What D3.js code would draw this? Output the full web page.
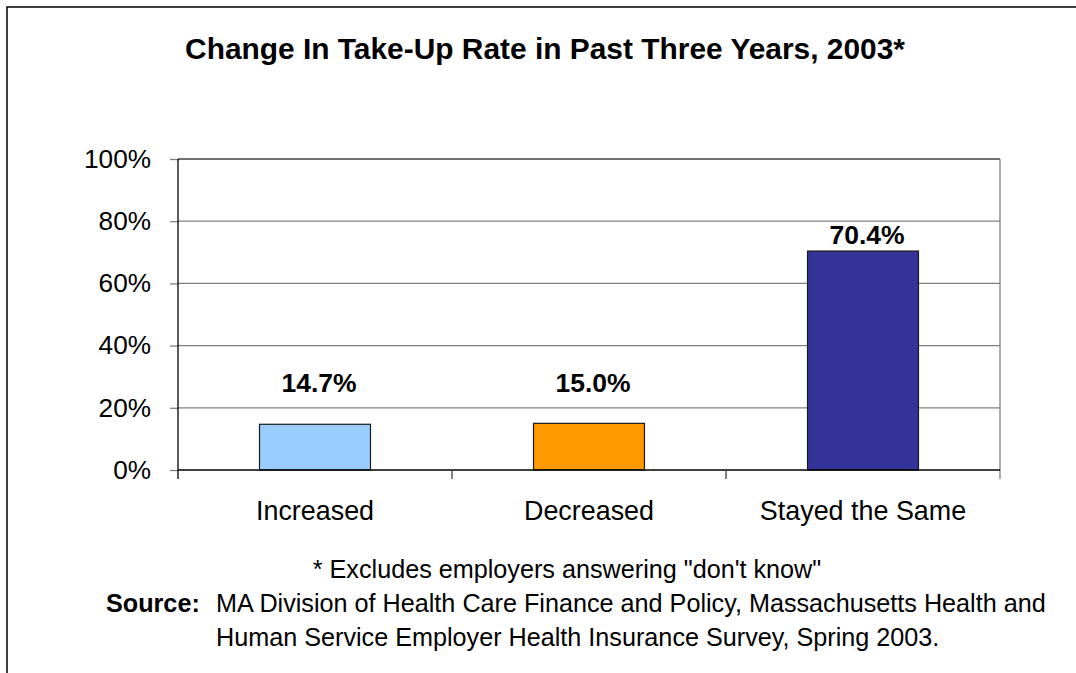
<!DOCTYPE html>
<html>
<head>
<meta charset="utf-8">
<script src="https://cdn.jsdelivr.net/npm/d3@7"></script>
<style>
  html, body { margin: 0; padding: 0; background: #fff; }
  svg { display: block; font-family: "Liberation Sans", Arial, sans-serif; }
</style>
</head>
<body>
<svg id="chart" width="1076" height="673"></svg>
<script>
// ---- data ----
const categories = ["Increased", "Decreased", "Stayed the Same"];
const values = [0.147, 0.150, 0.704];
const valueLabels = ["14.7%", "15.0%", "70.4%"];
const barColors = ["#99CCFF", "#FF9900", "#333399"];
const yTicks = [0, 0.2, 0.4, 0.6, 0.8, 1.0];
const titleText = "Change In Take-Up Rate in Past Three Years, 2003*";
const footnoteText = "* Excludes employers answering \"don't know\"";
const sourceLabel = "Source:";
const sourceLines = [
  "MA Division of Health Care Finance and Policy, Massachusetts Health and",
  "Human Service Employer Health Insurance Survey, Spring 2003."
];

// ---- layout ----
const svg = d3.select("#chart");
const plot = { left: 178, right: 1000, top: 159, bottom: 470 };

// outer frame (only top and left edges visible)
svg.append("rect")
  .attr("x", 7).attr("y", 7)
  .attr("width", 1100).attr("height", 700)
  .attr("fill", "none").attr("stroke", "#000").attr("stroke-width", 1.5);

const x = d3.scaleBand().domain(categories).range([plot.left, plot.right]).padding(0);
const y = d3.scaleLinear().domain([0, 1]).range([plot.bottom, plot.top]);
const barFrac = 0.405;

// gridlines
svg.append("g").selectAll("line")
  .data(yTicks.filter(d => d > 0 && d < 1))
  .join("line")
  .attr("x1", plot.left).attr("x2", plot.right)
  .attr("y1", d => y(d)).attr("y2", d => y(d))
  .attr("stroke", "#808080").attr("stroke-width", 1.2);

// plot border top & right
svg.append("line")
  .attr("x1", plot.left).attr("x2", plot.right)
  .attr("y1", y(1)).attr("y2", y(1))
  .attr("stroke", "#404040").attr("stroke-width", 1.3);
svg.append("line")
  .attr("x1", plot.right).attr("x2", plot.right)
  .attr("y1", y(1)).attr("y2", plot.bottom + 9)
  .attr("stroke", "#808080").attr("stroke-width", 1.3);

// y axis
const yAxis = svg.append("g")
  .attr("transform", `translate(${plot.left},0)`)
  .call(d3.axisLeft(y).tickValues(yTicks).tickFormat(d3.format(".0%")).tickSize(8).tickPadding(19));
yAxis.select(".domain").remove();
yAxis.selectAll(".tick line").attr("stroke", "#808080").attr("stroke-width", 1.3);
yAxis.selectAll(".tick text")
  .attr("font-size", 26.2).attr("fill", "#000")
  .attr("font-family", "Liberation Sans, Arial, sans-serif");
svg.append("line")
  .attr("x1", plot.left).attr("x2", plot.left)
  .attr("y1", y(1)).attr("y2", plot.bottom + 9)
  .attr("stroke", "#000").attr("stroke-width", 1.3);

// bars
svg.append("g").selectAll("rect")
  .data(categories)
  .join("rect")
  .attr("x", d => x(d) + x.bandwidth() * (1 - barFrac) / 2)
  .attr("width", x.bandwidth() * barFrac)
  .attr("y", (d, i) => y(values[i]))
  .attr("height", (d, i) => y(0) - y(values[i]))
  .attr("fill", (d, i) => barColors[i])
  .attr("stroke", "#1a1a1a").attr("stroke-width", 1.2);

// x axis line and category-boundary ticks
svg.append("line")
  .attr("x1", plot.left).attr("x2", plot.right)
  .attr("y1", y(0)).attr("y2", y(0))
  .attr("stroke", "#000").attr("stroke-width", 1.5);
svg.append("g").selectAll("line")
  .data(categories.slice(1))
  .join("line")
  .attr("x1", d => x(d)).attr("x2", d => x(d))
  .attr("y1", y(0)).attr("y2", y(0) + 9)
  .attr("stroke", "#404040").attr("stroke-width", 1.3);

// category labels
svg.append("g").selectAll("text")
  .data(categories)
  .join("text")
  .attr("x", d => x(d) + x.bandwidth() / 2)
  .attr("y", y(0) + 50)
  .attr("text-anchor", "middle")
  .attr("font-size", 26.9).attr("fill", "#000")
  .text(d => d);

// value labels
svg.append("g").selectAll("text")
  .data(categories)
  .join("text")
  .attr("x", d => x(d) + x.bandwidth() / 2 + 4)
  .attr("y", (d, i) => Math.min(y(values[i]) - 7, y(0.25)))
  .attr("text-anchor", "middle")
  .attr("font-size", 26.5).attr("font-weight", "bold").attr("fill", "#000")
  .text((d, i) => valueLabels[i]);

// title
svg.append("text")
  .attr("x", 545).attr("y", 59)
  .attr("text-anchor", "middle")
  .attr("font-size", 29.9).attr("font-weight", "bold").attr("fill", "#000")
  .text(titleText);

// footnote
svg.append("text")
  .attr("x", 567).attr("y", 578)
  .attr("text-anchor", "middle")
  .attr("font-size", 25.2).attr("fill", "#000")
  .text(footnoteText);

svg.append("text")
  .attr("x", 106).attr("y", 612)
  .attr("font-size", 25.2).attr("font-weight", "bold").attr("fill", "#000")
  .text(sourceLabel);
svg.append("g").selectAll("text")
  .data(sourceLines)
  .join("text")
  .attr("x", 216)
  .attr("y", (d, i) => 612 + i * 33.5)
  .attr("font-size", 25.2).attr("fill", "#000")
  .text(d => d);
</script>
</body>
</html>
